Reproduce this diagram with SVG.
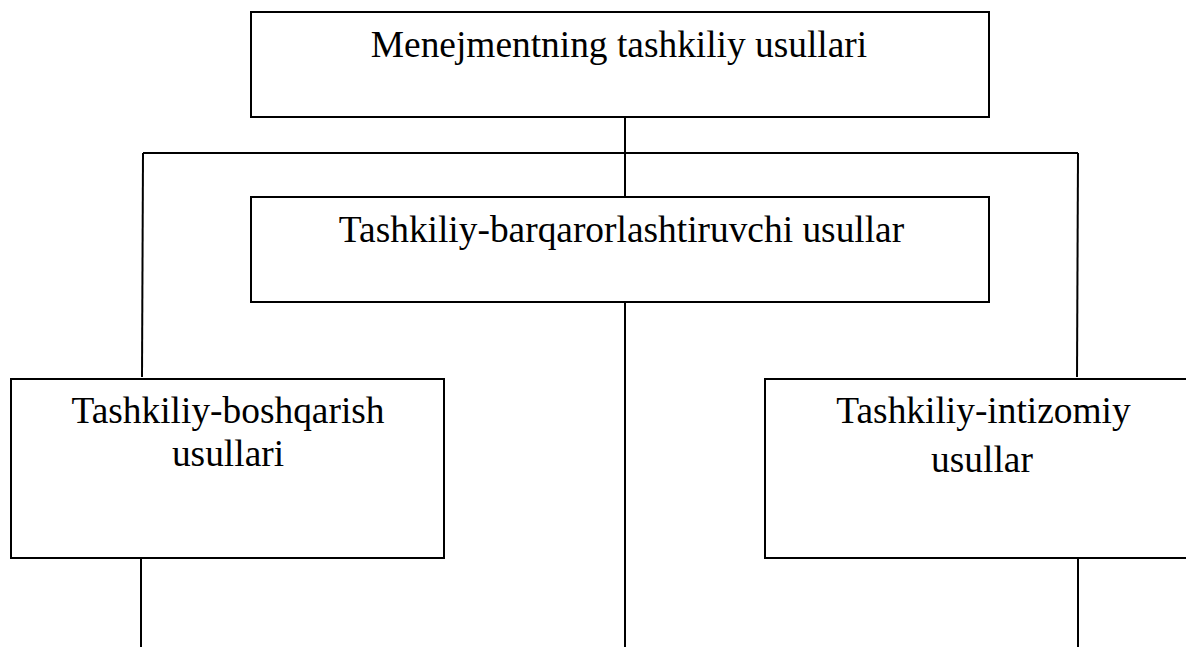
<svg xmlns="http://www.w3.org/2000/svg" width="1186" height="647" viewBox="0 0 1186 647">
  <style>
    .box { fill: #ffffff; stroke: #000000; stroke-width: 2; }
    .link { stroke: #000000; stroke-width: 2; fill: none; }
    .label { font-family: "Liberation Serif", "Times New Roman", serif; font-size: 37.4px; fill: #000000; text-anchor: middle; }
  </style>
  <rect width="1186" height="647" fill="#ffffff"/>

  <g id="connectors">
    <line class="link" x1="625" y1="117" x2="625" y2="198"/>
    <line class="link" x1="143" y1="153" x2="1078" y2="153"/>
    <line class="link" x1="143" y1="153" x2="142" y2="377"/>
    <line class="link" x1="1078" y1="153" x2="1077" y2="377"/>
    <line class="link" x1="625" y1="302" x2="625" y2="647"/>
    <line class="link" x1="141" y1="555" x2="141" y2="647"/>
    <line class="link" x1="1078" y1="555" x2="1078" y2="647"/>
  </g>

  <g id="node-root">
    <rect class="box" x="251" y="12" width="738" height="105"/>
    <text class="label" x="619" y="56.5">Menejmentning tashkiliy usullari</text>
  </g>

  <g id="node-stabilizing">
    <rect class="box" x="251" y="197" width="738" height="105"/>
    <text class="label" x="621.5" y="241.5">Tashkiliy-barqarorlashtiruvchi usullar</text>
  </g>

  <g id="node-management">
    <rect class="box" x="11" y="379" width="433" height="179"/>
    <text class="label" x="228" y="422.5">Tashkiliy-boshqarish</text>
    <text class="label" x="228" y="466">usullari</text>
  </g>

  <g id="node-discipline">
    <rect class="box" x="765" y="379" width="437" height="179"/>
    <text class="label" x="983.5" y="422.5">Tashkiliy-intizomiy</text>
    <text class="label" x="982" y="471.5">usullar</text>
  </g>
</svg>
